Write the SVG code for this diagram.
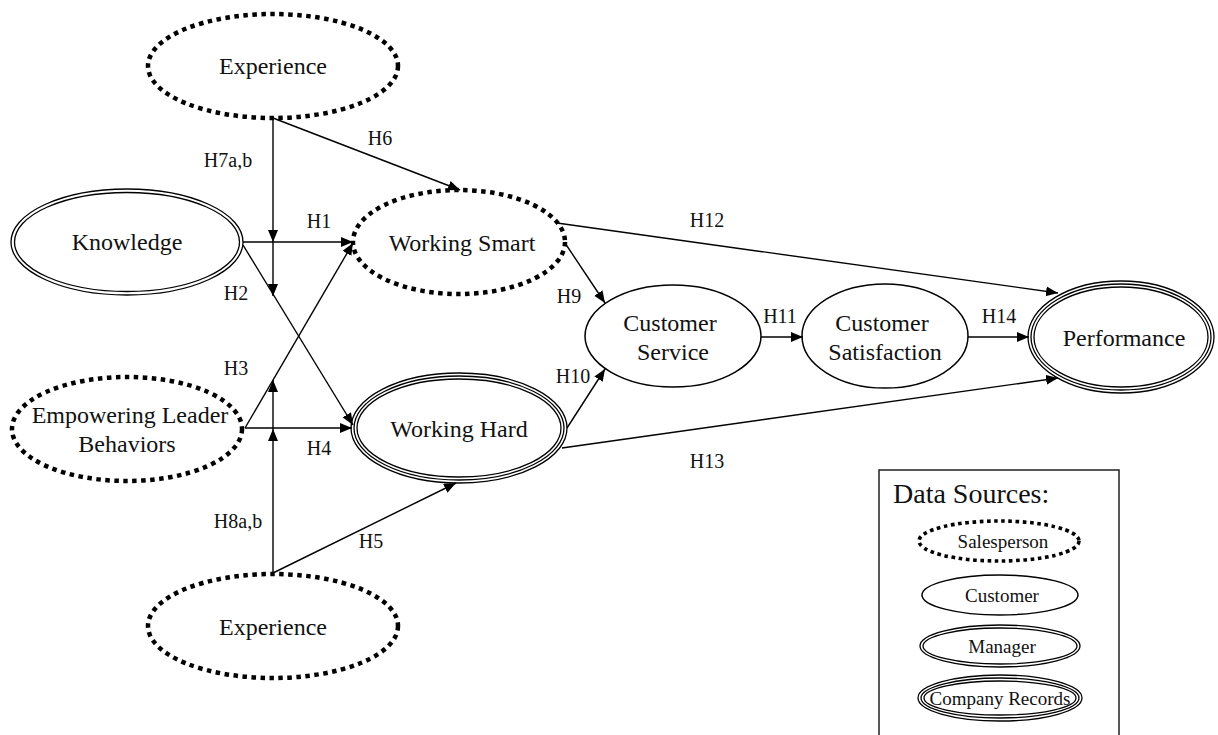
<svg xmlns="http://www.w3.org/2000/svg" width="1218" height="735" viewBox="0 0 1218 735">
<defs>
<style>
.t{font-family:"Liberation Serif","Times New Roman",serif;font-size:24px;fill:#111;text-anchor:middle}
.h{font-family:"Liberation Serif","Times New Roman",serif;font-size:20px;fill:#111;text-anchor:middle}
.ls{font-family:"Liberation Serif","Times New Roman",serif;font-size:19px;fill:#111;text-anchor:middle}
.dot{fill:none;stroke:#000;stroke-width:4.5;stroke-dasharray:4.5 4.5}
.dots{fill:none;stroke:#000;stroke-width:3.6;stroke-dasharray:3.6 3.6}
.sol{fill:none;stroke:#000;stroke-width:1.5}
.thin{fill:none;stroke:#000;stroke-width:1.3}
.c{fill:none;stroke:#000;stroke-width:1.4;marker-end:url(#ah)}
.cn{fill:none;stroke:#000;stroke-width:1.4}
</style>
<marker id="ah" markerUnits="userSpaceOnUse" markerWidth="14" markerHeight="12" refX="12" refY="5" orient="auto">
<path d="M0,0 L12,5 L0,10 Z" fill="#000"/>
</marker>
</defs>
<rect width="1218" height="735" fill="#fff"/>

<g id="connectors">
<line class="c" x1="273" y1="118" x2="273" y2="242"/>
<line class="c" x1="273" y1="242" x2="273" y2="296"/>
<line class="c" x1="273" y1="118" x2="460" y2="190"/>
<line class="c" x1="243" y1="242" x2="353" y2="242"/>
<line class="c" x1="243" y1="245" x2="353" y2="425"/>
<line class="c" x1="245" y1="428" x2="353" y2="243"/>
<line class="c" x1="245" y1="428" x2="352" y2="428"/>
<line class="c" x1="273" y1="573" x2="273" y2="429"/>
<line class="c" x1="273" y1="429" x2="273" y2="380"/>
<line class="c" x1="273" y1="573" x2="456" y2="483"/>
<line class="c" x1="565" y1="243" x2="605" y2="303"/>
<line class="c" x1="567" y1="428" x2="605" y2="369"/>
<line class="c" x1="557" y1="223" x2="1058" y2="293"/>
<line class="c" x1="562" y1="448" x2="1058" y2="378"/>
<line class="c" x1="761" y1="337" x2="803" y2="337"/>
<line class="c" x1="968" y1="337" x2="1029" y2="337"/>
<text class="h" x="228" y="167">H7a,b</text>
<text class="h" x="380" y="145">H6</text>
<text class="h" x="319" y="228">H1</text>
<text class="h" x="236" y="300">H2</text>
<text class="h" x="236" y="375">H3</text>
<text class="h" x="319" y="455">H4</text>
<text class="h" x="238" y="528">H8a,b</text>
<text class="h" x="371" y="548">H5</text>
<text class="h" x="569" y="303">H9</text>
<text class="h" x="573" y="383">H10</text>
<text class="h" x="707" y="227">H12</text>
<text class="h" x="780" y="323">H11</text>
<text class="h" x="999" y="323">H14</text>
<text class="h" x="707" y="468">H13</text>
</g>

<g id="experience-top">
<ellipse class="dot" cx="273" cy="66" rx="125" ry="52"/>
<text class="t" x="273" y="74">Experience</text>
</g>

<g id="knowledge">
<ellipse class="thin" cx="127" cy="242" rx="116" ry="53"/>
<ellipse class="thin" cx="127" cy="242" rx="112.5" ry="49.5"/>
<text class="t" x="127" y="250">Knowledge</text>
</g>

<g id="empowering">
<ellipse class="dot" cx="127" cy="429" rx="115" ry="52"/>
<text class="t" x="130" y="423">Empowering Leader</text>
<text class="t" x="127" y="452">Behaviors</text>
</g>

<g id="experience-bottom">
<ellipse class="dot" cx="273" cy="626" rx="125" ry="52"/>
<text class="t" x="273" y="635">Experience</text>
</g>

<g id="working-smart">
<ellipse class="dot" cx="459" cy="242" rx="106" ry="52"/>
<text class="t" x="462" y="251">Working Smart</text>
</g>

<g id="working-hard">
<ellipse class="thin" cx="459" cy="428" rx="108" ry="55"/>
<ellipse class="thin" cx="459" cy="428" rx="105" ry="52"/>
<ellipse class="thin" cx="459" cy="428" rx="102" ry="49"/>
<text class="t" x="459" y="437">Working Hard</text>
</g>

<g id="customer-service">
<ellipse class="sol" cx="673" cy="336" rx="88" ry="51"/>
<text class="t" x="670" y="331">Customer</text>
<text class="t" x="673" y="360">Service</text>
</g>

<g id="customer-satisfaction">
<ellipse class="sol" cx="885" cy="336" rx="83" ry="52"/>
<text class="t" x="882" y="331">Customer</text>
<text class="t" x="885" y="360">Satisfaction</text>
</g>

<g id="performance">
<ellipse class="thin" cx="1121" cy="337" rx="93" ry="56"/>
<ellipse class="thin" cx="1121" cy="337" rx="90" ry="53"/>
<ellipse class="thin" cx="1121" cy="337" rx="87" ry="50"/>
<text class="t" x="1124" y="346">Performance</text>
</g>

<g id="legend">
<path d="M879,736 V470 H1119 V736" fill="none" stroke="#222" stroke-width="1.5"/>
<text x="893" y="503" font-family="Liberation Serif, Times New Roman, serif" font-size="28" fill="#111">Data Sources:</text>
<ellipse class="dots" cx="999" cy="541" rx="80" ry="20"/>
<text class="ls" x="1003" y="548">Salesperson</text>
<ellipse class="sol" cx="1000" cy="595" rx="78" ry="20"/>
<text class="ls" x="1002" y="602">Customer</text>
<ellipse class="thin" cx="1000" cy="646" rx="80" ry="21"/>
<ellipse class="thin" cx="1000" cy="646" rx="77" ry="18"/>
<text class="ls" x="1002" y="653">Manager</text>
<ellipse class="thin" cx="1000" cy="698" rx="82" ry="23"/>
<ellipse class="thin" cx="1000" cy="698" rx="79" ry="20"/>
<ellipse class="thin" cx="1000" cy="698" rx="76" ry="17"/>
<text class="ls" x="1000" y="705">Company Records</text>
</g>
</svg>
